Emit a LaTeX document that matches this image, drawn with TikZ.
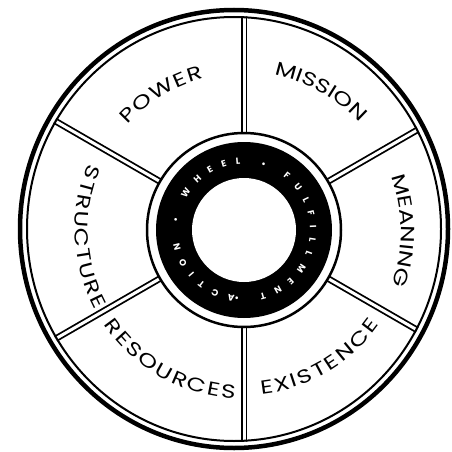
\documentclass[tikz,border=0pt]{standalone}
\usepackage{fontspec}
\setmainfont{Poppins}
\newfontfamily\lblfont[FakeStretch=1.3]{Poppins}
\usetikzlibrary{decorations.text,calc}
\newcommand\lblsize{\lblfont\fontsize{19}{19}\selectfont}
\newcommand\ringsize{\fontsize{9}{9}\selectfont\bfseries}
\newcommand\arclabel[4]{%
  \path[decorate,decoration={text along path,text={|\lblsize|#4},text align={fit to path}}]
    ($(C)+(#1:#3)$) arc[start angle=#1,end angle=#2,radius=#3];}
\tikzset{
  spoke/.style={draw=black,line width=1.8pt,double=white,double distance=3pt},
  rimline/.style={draw=black,line width=#1},
}
\begin{document}
\begin{tikzpicture}[x=1pt,y=1pt]
\useasboundingbox (0,0) rectangle (452,451);
\fill[white] (0,0) rectangle (452,451);
\coordinate (O) at (234,222);
\coordinate (C) at (244,221);
% spokes clipped to the rim
\begin{scope}
  \clip (O) ellipse[x radius=208,y radius=213];
  \foreach \a in {90,30,-30,-90,-150,150}{
    \coordinate (s\a) at ($(C)+(\a:300)$);
    \draw[spoke] (C) -- (s\a);
  }
\end{scope}
% rim
\draw[rimline=4.5pt] (O) ellipse[x radius=214,y radius=219];
\draw[rimline=2pt] (O) ellipse[x radius=207,y radius=212];
% hub
\filldraw[fill=white,draw=black,line width=2.5pt] (C) circle[radius=97];
\fill[black] (C) circle[radius=88];
\fill[white] (C) circle[radius=52];
\path[decorate,decoration={text along path,text color=white,
   text={|\ringsize|ACTION • WHEEL • FULFILLMENT • },text align={fit to path}}]
   ($(C)+(262:66)$) arc[start angle=262,end angle=-98,radius=66];
% labels
\arclabel{138}{105}{157}{POWER}
\arclabel{79}{43}{158}{MISSION}
\arclabel{20}{-18}{157}{MEANING}
\arclabel{-84}{-35}{165}{EXISTENCE}
\arclabel{214}{267}{169}{RESOURCES}
\arclabel{157}{208}{169}{STRUCTURE}
\end{tikzpicture}
\end{document}
